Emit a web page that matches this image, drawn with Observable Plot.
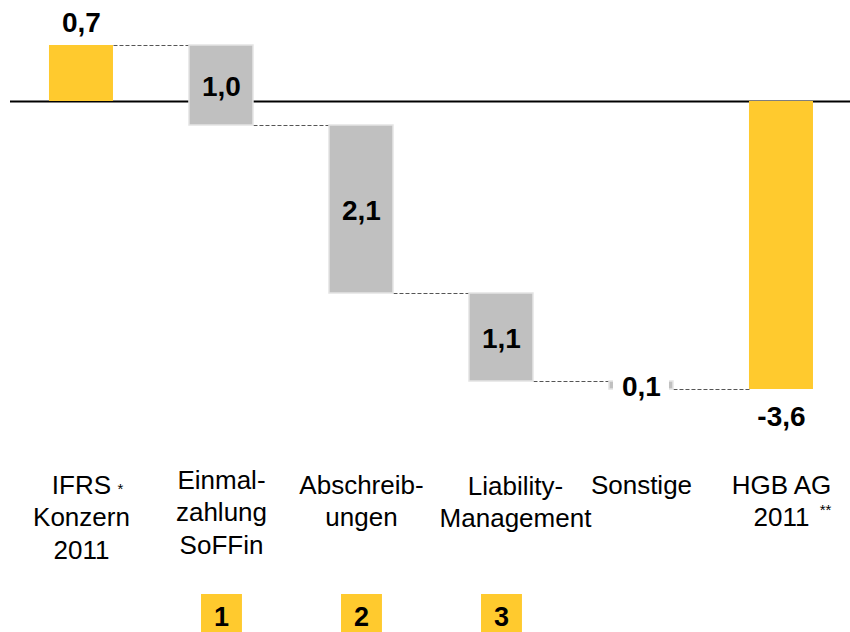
<!DOCTYPE html>
<html><head><meta charset="utf-8">
<script src="https://cdn.jsdelivr.net/npm/d3@7"></script>
<script src="https://cdn.jsdelivr.net/npm/@observablehq/plot@0.6"></script>
<style>body{margin:0;background:#fff} #chart svg{display:block}</style>
</head><body><div id="chart"></div>
<script>
const categories = ["IFRS\nKonzern\n2011", "Einmal-\nzahlung\nSoFFin", "Abschreib-\nungen", "Liability-\nManagement", "Sonstige", "HGB AG\n2011"];
const values = [0.7, -1.0, -2.1, -1.1, -0.1, -3.6];
const kinds = ["total", "step", "step", "step", "step", "total"];
const valueLabels = ["0,7", "1,0", "2,1", "1,1", "0,1", "-3,6"];
const badgeIndex = [1, 2, 3];
const badgeLabels = ["1", "2", "3"];
const footnoteIndex = [0, 5];
const footnoteMarks = ["*", "**"];

const YELLOW = "#FFCA2E", GRAY = "#C0C0C0";
const HW = 32 / 140; // half bar width in category units
const FONT = "'Liberation Sans', Arial, Helvetica, sans-serif";
const LINE = 32.5;

let cum = 0;
const rows = categories.map((c, i) => {
  const v = values[i];
  let y1, y2;
  if (kinds[i] === "total") { y1 = 0; y2 = v; cum = v; }
  else { y1 = cum; y2 = cum + v; cum = y2; }
  return {i, c, v, y1, y2, kind: kinds[i], label: valueLabels[i]};
});
const links = rows.slice(0, -1).map((r, k) => ({x1: r.i + HW, x2: rows[k + 1].i - HW, y: r.y2}));
const totals = rows.filter(d => d.kind === "total");
const steps = rows.filter(d => d.kind === "step");
const smallSteps = steps.filter(d => Math.abs(d.v) < 0.2);
const lines = rows.flatMap(r => r.c.split("\n").map((t, j) => ({i: r.i, t, j})));

const labelMarks = (filter, dyBase, dx) => [0, 1, 2].map(j =>
  Plot.text(lines.filter(d => filter(d) && d.j === j), {
    x: "i", text: "t", frameAnchor: "bottom", lineAnchor: "top",
    dy: dyBase + j * LINE, dx, fontSize: 26
  }));

const chart = Plot.plot({
  width: 850, height: 632,
  marginTop: 0, marginLeft: 10, marginRight: 0, marginBottom: 212,
  x: {domain: [-0.507, 5.493], axis: null},
  y: {domain: [-3.9875, 1.2625], axis: null},
  style: {fontFamily: FONT, background: "white", color: "black"},
  marks: [
    Plot.ruleY([0], {stroke: "black", strokeWidth: 2}),
    Plot.link(links, {x1: "x1", x2: "x2", y1: "y", y2: "y", stroke: "#555", strokeWidth: 1, strokeDasharray: "4,2"}),
    Plot.rect(totals, {x1: d => d.i - HW, x2: d => d.i + HW, y1: "y1", y2: "y2", fill: YELLOW}),
    Plot.rect(steps, {x1: d => d.i - HW, x2: d => d.i + HW, y1: "y1", y2: "y2", fill: GRAY, stroke: "#E4E4E4", strokeWidth: 1.5}),
    Plot.rect(smallSteps, {x1: d => d.i - HW, x2: d => d.i + HW, y1: "y1", y2: "y2", fill: "white", insetLeft: 4, insetRight: 4, insetTop: -3, insetBottom: -3}),
    // value labels
    Plot.text(totals.filter(d => d.v > 0), {x: "i", y: "y2", text: "label", dy: -22, lineAnchor: "middle", fontSize: 28, fontWeight: "bold"}),
    Plot.text(totals.filter(d => d.v < 0), {x: "i", y: "y2", text: "label", dy: 28, lineAnchor: "middle", fontSize: 28, fontWeight: "bold"}),
    Plot.text(steps, {x: "i", y: d => (d.y1 + d.y2) / 2, text: "label", dy: 2, lineAnchor: "middle", fontSize: 28, fontWeight: "bold"}),
    // category labels (one text per line)
    ...labelMarks(d => d.i !== 1 && d.i !== 3, 55, 0),
    ...labelMarks(d => d.i === 1, 50, 0),
    ...labelMarks(d => d.i === 3, 56, 14),
    // footnote marks
    Plot.text(footnoteIndex.slice(0, 1), {x: d => d, text: () => footnoteMarks[0], frameAnchor: "bottom", lineAnchor: "bottom", dy: 73, dx: 39, fontSize: 15}),
    Plot.text(footnoteIndex.slice(1), {x: d => d, text: () => footnoteMarks[1], frameAnchor: "bottom", lineAnchor: "bottom", dy: 94, dx: 44, fontSize: 15}),
    // badges
    Plot.dot(badgeIndex, {x: d => d, frameAnchor: "bottom", dy: 194, symbol: "square", r: 23.1, fill: YELLOW}),
    Plot.text(badgeIndex, {x: d => d, text: (d, k) => badgeLabels[k], frameAnchor: "bottom", dy: 197, lineAnchor: "middle", fontSize: 27, fontWeight: "bold"})
  ]
});
document.getElementById("chart").appendChild(chart);
</script>
</body></html>
